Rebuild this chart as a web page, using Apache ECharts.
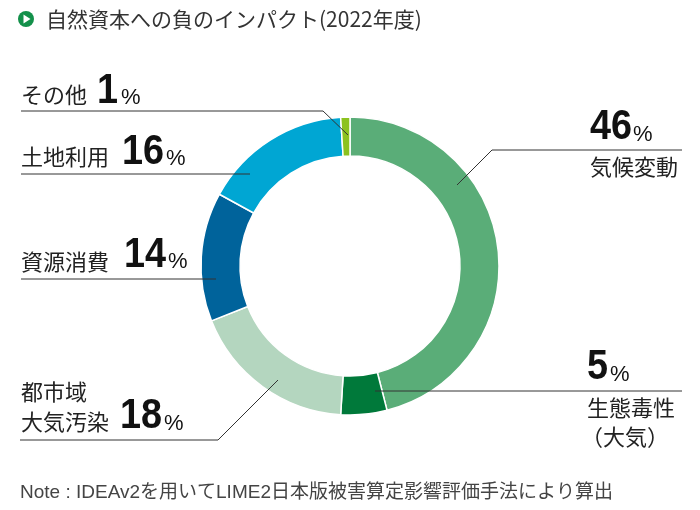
<!DOCTYPE html>
<html><head><meta charset="utf-8">
<script src="https://cdn.jsdelivr.net/npm/echarts@6/dist/echarts.min.js"></script>
<style>html,body{margin:0;padding:0;background:#fff}#c{width:700px;height:510px}</style>
</head><body><div id="c"></div>
<script>
// ---- data ----
const categories = ['気候変動', '生態毒性（大気）', '都市域大気汚染', '資源消費', '土地利用', 'その他'];
const values = [46, 5, 18, 14, 16, 1];
const labelLines = [['気候変動'], ['生態毒性', '（大気）'], ['都市域', '大気汚染'], ['資源消費'], ['土地利用'], ['その他']];
const title = '自然資本への負のインパクト(2022年度)';
const note = 'Note : IDEAv2を用いてLIME2日本版被害算定影響評価手法により算出';

// ---- style / layout ----
const colors = ['#5aad78', '#00793a', '#b4d6bf', '#00639b', '#00a6d3', '#8cc21f'];
const CJK = '"Noto Sans CJK JP", sans-serif';
const NUM = '"Liberation Sans", Arial, sans-serif';
const PCT = '"Liberation Sans", sans-serif';
const NOTEF = '"Liberation Sans", "Noto Sans CJK JP", sans-serif';
// label layout: name lines position, number position, percent position, leader line
const layout = [
  {names: [[590, 167]], num: [590, 127.5], pct: [633, 135], line: [[457, 185], [492, 150], [682, 150]]},
  {names: [[587, 408], [581, 437]], num: [587, 367.5], pct: [610, 375], line: [[375, 391], [682, 391]]},
  {names: [[21, 392], [21, 422]], num: [120, 416], pct: [164, 424], line: [[278, 380], [218, 440], [20, 440]]},
  {names: [[21, 262]], num: [124, 255], pct: [168, 262], line: [[216, 279], [21, 279]]},
  {names: [[21, 157]], num: [122, 152], pct: [166, 159], line: [[250, 174], [21, 174]]},
  {names: [[21, 95]], num: [97, 91], pct: [121, 97.5], line: [[348, 135], [323, 111], [21, 111]]}
];

const graphics = [];
// title icon
graphics.push({type: 'circle', shape: {cx: 26, cy: 19, r: 8}, style: {fill: '#13904a'}});
graphics.push({type: 'polygon', shape: {points: [[23.5, 14.5], [23.5, 23.5], [30.5, 19]]}, style: {fill: '#fff'}});
graphics.push({type: 'text', x: 46, y: 19, style: {text: title, font: '21px ' + CJK, fill: '#333', textVerticalAlign: 'middle'}});
graphics.push({type: 'text', x: 20, y: 493, style: {text: note, font: '19px ' + NOTEF, fill: '#444', textVerticalAlign: 'middle'}});

values.forEach((v, i) => {
  const L = layout[i];
  labelLines[i].forEach((t, j) => {
    graphics.push({type: 'text', x: L.names[j][0], y: L.names[j][1], z: 10,
      style: {text: t, font: '22px ' + CJK, fill: '#222', textVerticalAlign: 'middle'}});
  });
  graphics.push({type: 'text', x: L.num[0], y: L.num[1], scaleX: 0.9, z: 10,
    style: {text: String(v), font: 'bold 42px ' + NUM, fill: '#111', textVerticalAlign: 'middle'}});
  graphics.push({type: 'text', x: L.pct[0], y: L.pct[1], z: 10,
    style: {text: '%', font: '22px ' + PCT, fill: '#111', textVerticalAlign: 'middle'}});
  graphics.push({type: 'polyline', z: 10, shape: {points: L.line}, style: {stroke: '#333', lineWidth: 1, fill: null}});
});

const chart = echarts.init(document.getElementById('c'), null, {renderer: 'canvas'});
chart.setOption({
  animation: false,
  color: colors,
  series: [{
    type: 'pie',
    center: [350, 266],
    radius: [110, 149],
    startAngle: 90,
    clockwise: true,
    label: {show: false},
    labelLine: {show: false},
    emphasis: {disabled: true},
    itemStyle: {borderColor: '#fff', borderWidth: 1.5},
    data: categories.map((c, i) => ({name: c, value: values[i]})),
    z: 1
  }],
  graphic: graphics
});
</script></body></html>
